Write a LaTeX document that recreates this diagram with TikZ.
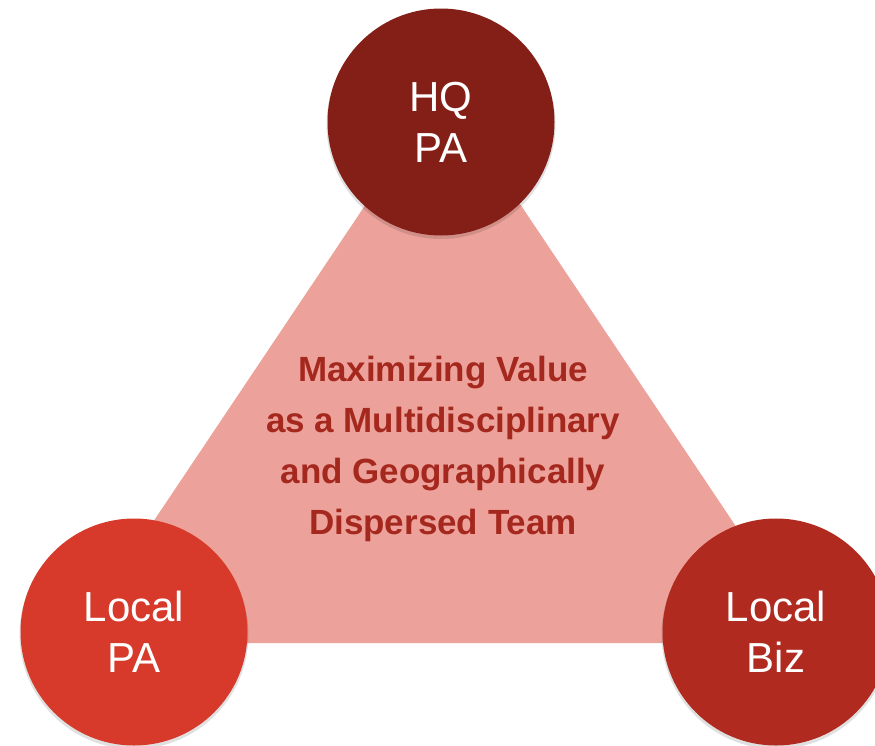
\documentclass[tikz,border=0pt]{standalone}
\usepackage{fontspec}
\setmainfont{Liberation Sans}
\begin{document}
\begin{tikzpicture}[x=1pt,y=-1pt]
\definecolor{pinkfill}{HTML}{ECA29A}
\definecolor{hqred}{HTML}{841F18}
\definecolor{lpared}{HTML}{D73A2B}
\definecolor{bizred}{HTML}{B02A20}
\definecolor{titlered}{HTML}{A5281F}
\tikzset{
  bubble/.style={circle, inner sep=0pt, minimum size=227pt, text=white, align=center,
    font=\fontsize{42}{51}\selectfont},
  shade/.style={circle, inner sep=0pt, minimum size=229pt, fill=black, fill opacity=0.12},
  title/.style={align=center, text=titlered, font=\fontsize{35}{51}\selectfont\bfseries}
}
\useasboundingbox (0,0) rectangle (875,745);
\clip (0,0) rectangle (875,745);
\coordinate (apex) at (443,89);
\coordinate (bl) at (72,643);
\coordinate (br) at (814,643);
\fill[pinkfill] (apex) -- (bl) -- (br) -- cycle;
\node[title] (center) at (443,449) {Maximizing Value\\as a Multidisciplinary\\and Geographically\\Dispersed Team};
\node[shade] (hqs) at (441,124.5) {};
\node[shade] (lpas) at (134,634.5) {};
\node[shade] (bizs) at (776,634.5) {};
\node[bubble, fill=hqred] (hq) at (441,122) {HQ\\PA};
\node[bubble, fill=lpared] (lpa) at (134,632) {Local\\PA};
\node[bubble, fill=bizred] (biz) at (776,632) {Local\\Biz};
\end{tikzpicture}
\end{document}
